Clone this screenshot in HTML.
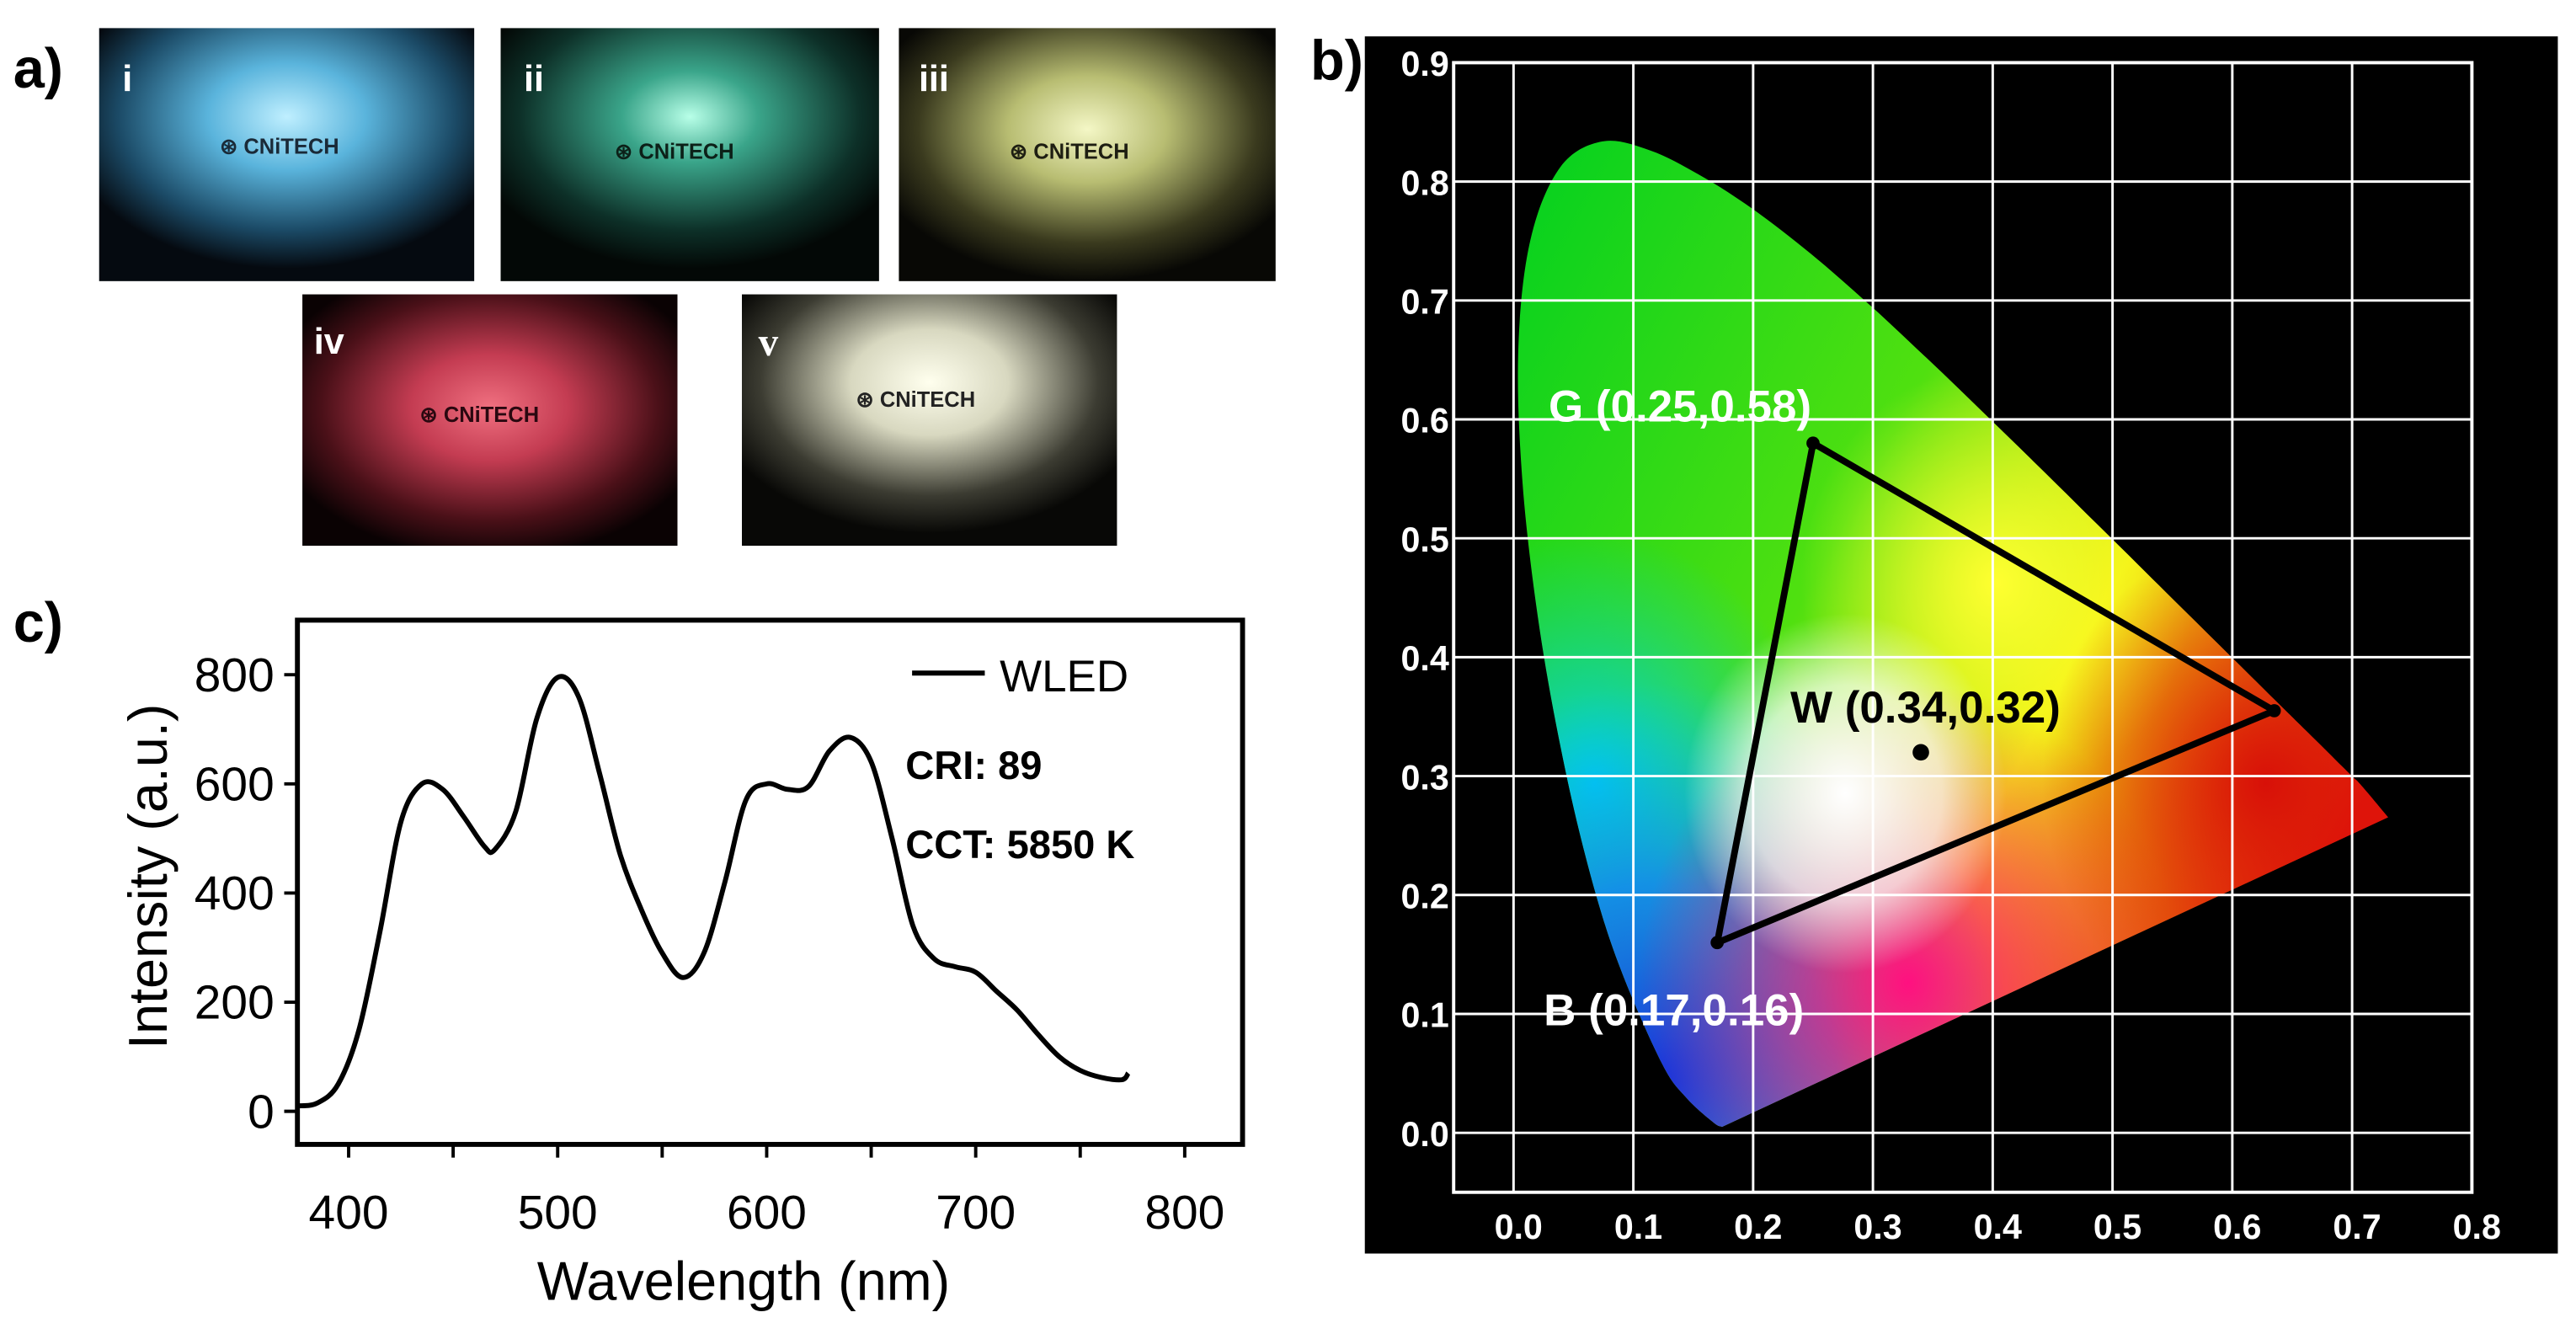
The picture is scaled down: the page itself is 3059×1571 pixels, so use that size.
<!DOCTYPE html>
<html><head><meta charset="utf-8"><style>
html,body{margin:0;padding:0;background:#fff;}
svg{display:block;}
text{font-family:"Liberation Sans",sans-serif;}
</style></head><body>
<svg id="fig" width="3059" height="1571" viewBox="0 0 1559 800" preserveAspectRatio="none" xmlns="http://www.w3.org/2000/svg">
<defs>
<radialGradient id="gi" cx="0.5" cy="0.35" r="0.6"><stop offset="0" stop-color="#bfefff"/><stop offset="0.35" stop-color="#5ab4dc"/><stop offset="0.75" stop-color="#1b4a66"/><stop offset="1" stop-color="#050a10"/></radialGradient>
<radialGradient id="gii" cx="0.5" cy="0.35" r="0.6"><stop offset="0" stop-color="#b8ffe8"/><stop offset="0.3" stop-color="#3aa58a"/><stop offset="0.75" stop-color="#0d3028"/><stop offset="1" stop-color="#030806"/></radialGradient>
<radialGradient id="giii" cx="0.5" cy="0.4" r="0.6"><stop offset="0" stop-color="#f4f7c6"/><stop offset="0.35" stop-color="#b8bd72"/><stop offset="0.75" stop-color="#3a3a1e"/><stop offset="1" stop-color="#080805"/></radialGradient>
<radialGradient id="giv" cx="0.5" cy="0.45" r="0.6"><stop offset="0" stop-color="#f07080"/><stop offset="0.35" stop-color="#c43c52"/><stop offset="0.75" stop-color="#4a1018"/><stop offset="1" stop-color="#0a0203"/></radialGradient>
<radialGradient id="gv" cx="0.5" cy="0.35" r="0.6"><stop offset="0" stop-color="#ffffee"/><stop offset="0.35" stop-color="#d8d8c0"/><stop offset="0.75" stop-color="#3c3c32"/><stop offset="1" stop-color="#080806"/></radialGradient>
<clipPath id="locusClip"><path id="locusPath" d=""/></clipPath>
<linearGradient id="cieBase" x1="0" y1="0" x2="1" y2="0.6"><stop offset="0" stop-color="#00d020"/><stop offset="0.45" stop-color="#50e010"/><stop offset="0.7" stop-color="#f0f010"/><stop offset="1" stop-color="#e01010"/></linearGradient>
<radialGradient id="cieBlue" cx="0.17" cy="0.95" r="0.4"><stop offset="0" stop-color="#1030e0"/><stop offset="0.5" stop-color="#1080ff" stop-opacity="0.8"/><stop offset="1" stop-color="#00c0ff" stop-opacity="0"/></radialGradient>
<radialGradient id="cieCyan" cx="0.1" cy="0.65" r="0.25"><stop offset="0" stop-color="#00d0e8"/><stop offset="1" stop-color="#00d0c0" stop-opacity="0"/></radialGradient>
<radialGradient id="ciePink" cx="0.45" cy="0.85" r="0.3"><stop offset="0" stop-color="#ff1080"/><stop offset="1" stop-color="#ff1060" stop-opacity="0"/></radialGradient>
<radialGradient id="cieRed" cx="0.85" cy="0.65" r="0.25"><stop offset="0" stop-color="#d81008"/><stop offset="1" stop-color="#e02000" stop-opacity="0"/></radialGradient>
<radialGradient id="cieWhite" cx="0.38" cy="0.66" r="0.18"><stop offset="0" stop-color="#ffffff"/><stop offset="0.6" stop-color="#ffffff" stop-opacity="0.7"/><stop offset="1" stop-color="#ffffff" stop-opacity="0"/></radialGradient>
<radialGradient id="cieYellow" cx="0.55" cy="0.45" r="0.22"><stop offset="0" stop-color="#ffff30"/><stop offset="1" stop-color="#ffff30" stop-opacity="0"/></radialGradient>
</defs>

<!-- panel a -->
<text x="8" y="53" font-size="34" font-weight="bold">a)</text>
<g><rect x="60" y="17" width="227" height="153" fill="url(#gi)"/><text x="74" y="55" font-size="22" font-weight="bold" fill="#fff">i</text><text x="133" y="93" font-size="13" font-weight="bold" fill="#1a2a38">⊛ CNiTECH</text></g>
<g><rect x="303" y="17" width="229" height="153" fill="url(#gii)"/><text x="317" y="55" font-size="22" font-weight="bold" fill="#fff">ii</text><text x="372" y="96" font-size="13" font-weight="bold" fill="#0c2018">⊛ CNiTECH</text></g>
<g><rect x="544" y="17" width="228" height="153" fill="url(#giii)"/><text x="556" y="55" font-size="22" font-weight="bold" fill="#fff">iii</text><text x="611" y="96" font-size="13" font-weight="bold" fill="#1e1e12">⊛ CNiTECH</text></g>
<g><rect x="183" y="178" width="227" height="152" fill="url(#giv)"/><text x="190" y="214" font-size="22" font-weight="bold" fill="#fff">iv</text><text x="254" y="255" font-size="13" font-weight="bold" fill="#2a0810">⊛ CNiTECH</text></g>
<g><rect x="449" y="178" width="227" height="152" fill="url(#gv)"/><text x="459" y="215" font-size="24" font-weight="bold" fill="#fff" style="font-family:'Liberation Serif',serif">v</text><text x="518" y="246" font-size="13" font-weight="bold" fill="#222">⊛ CNiTECH</text></g>

<!-- panel c -->
<text x="8" y="388" font-size="34" font-weight="bold">c)</text>
<g id="specChart"></g>

<!-- panel b -->
<text x="793" y="48" font-size="34" font-weight="bold">b)</text>
<rect x="826" y="22" width="722" height="736" fill="#000"/>
<g id="cieChart"></g>
</svg>
<script>
const NS='http://www.w3.org/2000/svg';
// ---- spectrum data ----
const wavelengths=[375,385,395,405,415,425,435,445,455,465,470,480,490,500,510,520,530,540,550,560,570,580,590,600,610,620,630,640,650,660,670,680,690,700,710,720,730,740,750,760,770,773];
const intensities=[10,15,50,150,330,530,600,590,540,485,480,550,720,795,760,620,470,370,290,245,290,420,570,600,590,595,660,685,640,500,340,280,265,255,220,185,140,100,75,62,58,70];
const xTickLabels=[400,500,600,700,800];
const yTickLabels=[0,200,400,600,800];
const legendLabel='WLED';
// ---- CIE data ----
const cieXTicks=[0.0,0.1,0.2,0.3,0.4,0.5,0.6,0.7,0.8];
const cieYTicks=[0.0,0.1,0.2,0.3,0.4,0.5,0.6,0.7,0.8,0.9];
const locusX=[0.1741,0.1666,0.1440,0.1241,0.0913,0.0687,0.0454,0.0235,0.0082,0.0039,0.0139,0.0389,0.0743,0.1142,0.1547,0.1929,0.2296,0.2658,0.3016,0.3373,0.3731,0.4087,0.4441,0.4788,0.5125,0.5448,0.5752,0.6029,0.6270,0.6482,0.6658,0.6801,0.6915,0.7006,0.7079,0.7300];
const locusY=[0.0050,0.0089,0.0297,0.0578,0.1327,0.2007,0.2950,0.4127,0.5384,0.6548,0.7502,0.8120,0.8338,0.8262,0.8059,0.7816,0.7543,0.7243,0.6923,0.6589,0.6245,0.5896,0.5547,0.5202,0.4866,0.4544,0.4242,0.3965,0.3725,0.3514,0.3340,0.3197,0.3083,0.2993,0.2920,0.2653];
const triX=[0.25,0.635,0.17];
const triY=[0.58,0.355,0.16];
const whitePoint=[0.34,0.32];
const ptLabels=['G (0.25,0.58)','B (0.17,0.16)','W (0.34,0.32)'];

function mk(tag,attrs,parent,txt){const e=document.createElementNS(NS,tag);for(const k in attrs)e.setAttribute(k,attrs[k]);if(txt!==undefined)e.textContent=txt;parent.appendChild(e);return e;}
function smooth(pts,closed){let d='M'+pts[0][0].toFixed(1)+','+pts[0][1].toFixed(1);const n=pts.length;
for(let i=0;i<n-1;i++){const p0=pts[Math.max(i-1,0)],p1=pts[i],p2=pts[i+1],p3=pts[Math.min(i+2,n-1)];
const c1=[p1[0]+(p2[0]-p0[0])/6,p1[1]+(p2[1]-p0[1])/6],c2=[p2[0]-(p3[0]-p1[0])/6,p2[1]-(p3[1]-p1[1])/6];
d+='C'+c1[0].toFixed(1)+','+c1[1].toFixed(1)+' '+c2[0].toFixed(1)+','+c2[1].toFixed(1)+' '+p2[0].toFixed(1)+','+p2[1].toFixed(1);}
return d+(closed?'Z':'');}

// spectrum axes
const sx=v=>211+(v-400)*1.265;
const sy=v=>672-v*0.33;
const sc=document.getElementById('specChart');
const frame=mk('rect',{x:180,y:375,width:572,height:317,fill:'none',stroke:'#000','stroke-width':3},sc);


for(let v=400;v<=800;v+=50){const t=mk('line',{x1:sx(v),x2:sx(v),y1:692,y2:700,stroke:'#000','stroke-width':2},sc);

}
xTickLabels.forEach(v=>{const t=mk('text',{x:sx(v),y:743,'font-size':29,'text-anchor':'middle'},sc,String(v));

});
yTickLabels.forEach(v=>{const l=mk('line',{x1:172,x2:180,y1:sy(v),y2:sy(v),stroke:'#000','stroke-width':2},sc);


const t=mk('text',{x:166,y:sy(v)+10,'font-size':29,'text-anchor':'end'},sc,String(v));

});
const xt=mk('text',{x:450,y:786,'font-size':33,'text-anchor':'middle'},sc,'Wavelength (nm)');


const yt=mk('text',{x:0,y:0,'font-size':33,'text-anchor':'middle',transform:'translate(101,530) rotate(-90)'},sc,'Intensity (a.u.)');


const spts=wavelengths.map((w,i)=>[sx(w),sy(intensities[i])]);
const line=mk('path',{d:smooth(spts,false),fill:'none',stroke:'#000','stroke-width':3,'stroke-linejoin':'round'},sc);


const lg=mk('line',{x1:552,x2:596,y1:407,y2:407,stroke:'#000','stroke-width':3},sc);


const lt=mk('text',{x:605,y:418,'font-size':27},sc,legendLabel);


const cri=mk('text',{x:548,y:471,'font-size':24,'font-weight':'bold'},sc,'CRI: 89');


const cct=mk('text',{x:548,y:519,'font-size':24,'font-weight':'bold'},sc,'CCT: 5850 K');



// CIE
const cx=v=>916+v*725;
const cy=v=>685-v*719;
const cc=document.getElementById('cieChart');
const lpts=locusX.map((x,i)=>[cx(x),cy(locusY[i])]);
document.getElementById('locusPath').setAttribute('d',smooth(lpts,true));
const lb=document.createElementNS(NS,'g');lb.setAttribute('clip-path','url(#locusClip)');cc.appendChild(lb);


const bx=cx(0)-5,by=cy(0.84),bw=cx(0.74)-bx,bh=cy(0)-by;
['cieBase','cieYellow','cieCyan','cieBlue','ciePink','cieRed','cieWhite'].forEach(g=>mk('rect',{x:bx,y:by,width:bw,height:bh,fill:'url(#'+g+')'},lb));
const yTop=cy(0.9),yBot=cy(-0.05),xL=cx(-0.05),xR=cx(0.8);
cieXTicks.forEach(v=>{const g=mk('line',{x1:cx(v),x2:cx(v),y1:yTop,y2:yBot,stroke:'#fff','stroke-width':1.5},cc);


const t=mk('text',{x:cx(v)+3,y:749,'font-size':21,'font-weight':'bold','text-anchor':'middle',fill:'#fff'},cc,v.toFixed(1));

});
cieYTicks.forEach(v=>{const g=mk('line',{x1:xL,x2:xR,y1:cy(v),y2:cy(v),stroke:'#fff','stroke-width':1.5},cc);


const t=mk('text',{x:877,y:cy(v)+8,'font-size':21,'font-weight':'bold','text-anchor':'end',fill:'#fff'},cc,v.toFixed(1));

});
const fr=mk('rect',{x:xL,y:yTop,width:xR-xL,height:yBot-yTop,fill:'none',stroke:'#fff','stroke-width':2},cc);


let td='';triX.forEach((x,i)=>{td+=(i?'L':'M')+cx(x).toFixed(1)+','+cy(triY[i]).toFixed(1);});td+='Z';
const tri=mk('path',{d:td,fill:'none',stroke:'#000','stroke-width':4,'stroke-linejoin':'round'},cc);


triX.forEach((x,i)=>{const p=mk('circle',{cx:cx(x),cy:cy(triY[i]),r:4,fill:'#000'},cc);

});
const wp=mk('circle',{cx:cx(whitePoint[0]),cy:cy(whitePoint[1]),r:5,fill:'#000'},cc);


const gl=mk('text',{x:cx(triX[0])-160,y:cy(triY[0])-13,'font-size':27,'font-weight':'bold',fill:'#fff'},cc,ptLabels[0]);


const bl=mk('text',{x:cx(triX[2])-105,y:cy(triY[2])+50,'font-size':27,'font-weight':'bold',fill:'#fff'},cc,ptLabels[1]);


const wl=mk('text',{x:cx(whitePoint[0])-79,y:cy(whitePoint[1])-18,'font-size':27,'font-weight':'bold',fill:'#000'},cc,ptLabels[2]);


</script>
</body></html>
